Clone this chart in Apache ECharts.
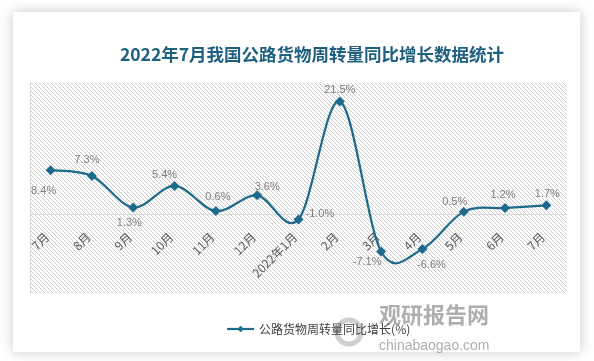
<!DOCTYPE html>
<html><head><meta charset="utf-8">
<script src="https://cdn.jsdelivr.net/npm/echarts@6/dist/echarts.min.js"></script>
<style>html,body{margin:0;padding:0;background:#fff}#c{width:594px;height:361px}</style>
</head><body><div id="c"></div>
<script>
const categories = ['7月','8月','9月','10月','11月','12月','2022年1月','2月','3月','4月','5月','6月','7月'];
const values = [8.4, 7.3, 1.3, 5.4, 0.6, 3.6, -1.0, 21.5, -7.1, -6.6, 0.5, 1.2, 1.7];
const labelPlace = [
  ['bottom',[-7,5]], ['top',[-5,0]], ['bottom',[-4,0]], ['top',[-10,5]], ['top',[2,1]], ['top',[10,7]],
  ['right',[-3,-6]], ['top',[0,4]], ['bottom',[-14,-5]], ['bottom',[9,1]], ['top',[-9,6]], ['top',[-2,3]], ['top',[1,4]]
];
const title = '2022年7月我国公路货物周转量同比增长数据统计';
const seriesName = '公路货物周转量同比增长(%)';
const lineColor = '#1d6a8c';

const pc = document.createElement('canvas');
pc.width = 4; pc.height = 4;
const g = pc.getContext('2d');
g.fillStyle = '#fff'; g.fillRect(0,0,4,4);
g.strokeStyle = '#cccccc'; g.lineWidth = 1;
g.beginPath(); g.moveTo(-1,-1); g.lineTo(5,5); g.stroke();
g.beginPath(); g.moveTo(-1,3); g.lineTo(1,5); g.stroke();
g.beginPath(); g.moveTo(3,-1); g.lineTo(5,1); g.stroke();

const gridTop = 83, gridBottom = 68, yMin = -15, yMax = 25;
const plotH = 361 - gridTop - gridBottom;
const zeroOffset = -plotH * (0 - yMin) / (yMax - yMin);

function smoothPath(params, api) {
  const pts = values.map((v, i) => api.coord([i, v]));
  const n = pts.length;
  let d = 'M' + pts[0][0] + ' ' + pts[0][1];
  for (let i = 0; i < n - 1; i++) {
    const p0 = pts[Math.max(i - 1, 0)], p1 = pts[i], p2 = pts[i + 1], p3 = pts[Math.min(i + 2, n - 1)];
    const c1 = [p1[0] + (p2[0] - p0[0]) / 6, p1[1] + (p2[1] - p0[1]) / 6];
    const c2 = [p2[0] - (p3[0] - p1[0]) / 6, p2[1] - (p3[1] - p1[1]) / 6];
    d += ' C' + c1[0] + ' ' + c1[1] + ' ' + c2[0] + ' ' + c2[1] + ' ' + p2[0] + ' ' + p2[1];
  }
  return {type: 'path', shape: {pathData: d}, style: {fill: 'none', stroke: lineColor, lineWidth: 2.2}, silent: true};
}

const chart = echarts.init(document.getElementById('c'));
const font = '"Noto Sans CJK SC", "Liberation Sans", sans-serif';
chart.setOption({
  animation: false,
  backgroundColor: '#fff',
  textStyle: {fontFamily: font},
  graphic: [
    {type:'rect', z:-10, shape:{x:13,y:12,width:567,height:340}, style:{fill:'#fff', shadowBlur:12, shadowColor:'rgba(0,0,0,0.22)'}},
    {type:'rect', z:-9, shape:{x:30,y:gridTop,width:537,height:plotH}, style:{fill:{image:pc, repeat:'repeat'}}},
    {type:'circle', z:1, shape:{cx:349,cy:332,r:12}, style:{fill:'none', stroke:'rgba(150,150,150,0.45)', lineWidth:5}},
    {type:'text', z:1, left:379, top:304, style:{text:'观研报告网', fill:'rgba(130,130,130,0.65)', font:'bold 22px "Noto Sans CJK SC"'}},
    {type:'text', z:1, left:379, top:339, style:{text:'chinabaogao.com', fill:'rgba(130,130,130,0.65)', font:'14px "Liberation Sans"'}}
  ],
  title: {text: title, left: 307, top: 41, textAlign:'center',
    textStyle:{fontSize:17.5, fontWeight:'bold', color:'#1f5f7f', fontFamily: font}},
  legend: {data:[seriesName], left: 221, top: 318, itemWidth: 27, itemHeight: 8,
    lineStyle:{color: lineColor, width: 2.2, opacity: 1},
    textStyle:{fontSize:12, color:'#404040', fontFamily: font}},
  grid: {left:30, right:27, top:gridTop, bottom:gridBottom},
  xAxis: {type:'category', data: categories, boundaryGap: true, offset: zeroOffset,
    axisLine:{show:true, onZero:false, lineStyle:{color:'#d9d9d9', width:1}},
    axisTick:{show:false},
    axisLabel:{rotate:45, margin:17, padding:[0,5,0,0], fontSize:12, color:'#595959', fontFamily: font, interval:0}},
  yAxis: {type:'value', min:yMin, max:yMax, interval:5,
    axisLine:{show:true, onZero:false, lineStyle:{color:'#d9d9d9'}},
    axisLabel:{show:false}, axisTick:{show:false}, splitLine:{show:false}},
  series: [{
    type:'custom', renderItem: smoothPath, data:[[0, 0]], z:1, silent:true, clip:false
  }, {
    name: seriesName, type:'line', z:3,
    symbol:'diamond', symbolSize:10,
    lineStyle:{color: lineColor, width:0, opacity:0},
    itemStyle:{color: lineColor},
    label:{show:true, fontSize:11, color:'#7f7f7f', fontFamily:'"Liberation Sans", sans-serif',
      formatter: p => p.value.toFixed(1) + '%'},
    data: values.map((v,i)=>({value:v, label:{position:labelPlace[i][0], offset:labelPlace[i][1]}}))
  }]
});
</script></body></html>
